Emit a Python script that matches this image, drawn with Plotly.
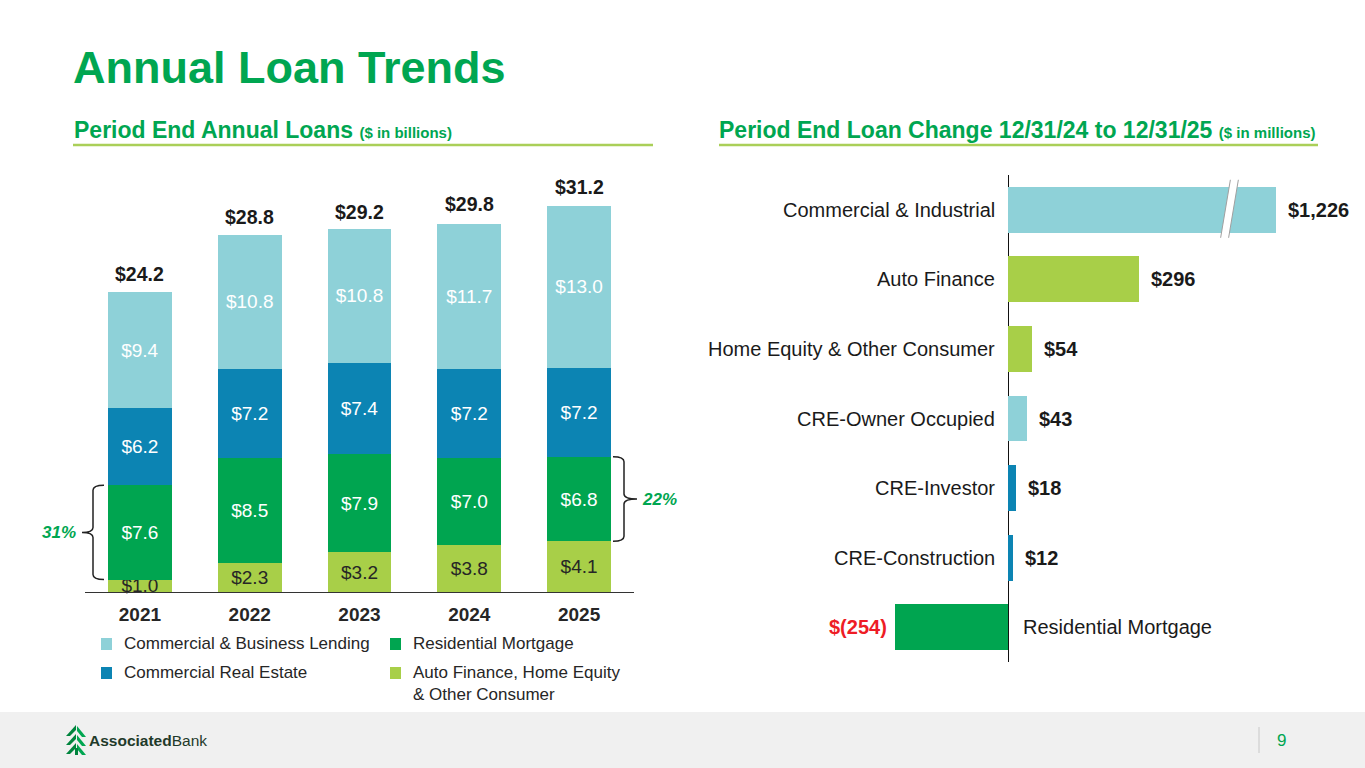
import plotly.graph_objects as go

W, H = 1365, 768

# ---------------- data ----------------
years = ["2021", "2022", "2023", "2024", "2025"]
auto_cons = [1.0, 2.3, 3.2, 3.8, 4.1]      # Auto Finance, Home Equity & Other Consumer
resi_mort = [7.6, 8.5, 7.9, 7.0, 6.8]      # Residential Mortgage
cre_loans = [6.2, 7.2, 7.4, 7.2, 7.2]      # Commercial Real Estate
cbl_loans = [9.4, 10.8, 10.8, 11.7, 13.0]  # Commercial & Business Lending
totals = [24.2, 28.8, 29.2, 29.8, 31.2]
resi_share = {"2021": "31%", "2025": "22%"}

series_names = ["Auto Finance, Home Equity & Other Consumer", "Residential Mortgage",
                "Commercial Real Estate", "Commercial & Business Lending"]
legend_labels = ["Auto Finance, Home Equity<br>& Other Consumer", "Residential Mortgage",
                 "Commercial Real Estate", "Commercial & Business Lending"]

chg_cats = ["Commercial & Industrial", "Auto Finance", "Home Equity & Other Consumer",
            "CRE-Owner Occupied", "CRE-Investor", "CRE-Construction", "Residential Mortgage"]
chg_vals = [1226, 296, 54, 43, 18, 12, -254]
chg_labels = ["$1,226", "$296", "$54", "$43", "$18", "$12", "$(254)"]
break_cap = 605     # broken axis: longer bars are truncated at this length
break_at = 500      # where the break marker sits

# ---------------- style ----------------
FONT = "Liberation Sans, Arial, sans-serif"
GREEN_T = "#00A651"
TEAL = "#8ED1D8"
BLUE = "#0C84B3"
GREEN = "#00A550"
LIME = "#A8CF48"
UNDER = "#AACF58"
DARK = "#1a1a1a"
RED = "#EE1C25"
seg_colors = [LIME, GREEN, BLUE, TEAL]
seg_text_colors = ["#262626", "white", "white", "white"]
chg_colors = [TEAL, LIME, LIME, TEAL, BLUE, BLUE, GREEN]


def px(xp):
    return xp / W


def py(yp):
    return 1 - yp / H


# left plot geometry
L_X0, L_X1 = 85, 634
L_BASE, L_SCALE, L_MAX = 592, 12.4, 33
# right plot geometry
R_ZERO, R_SCALE, R_MIN, R_MAX = 1008, 0.443, -300, 650
R_TOP, R_BOT = 175, 662

fig = go.Figure()

series = [auto_cons, resi_mort, cre_loans, cbl_loans]
for name, vals, col, tcol in zip(series_names, series, seg_colors, seg_text_colors):
    fig.add_trace(go.Bar(
        x=years, y=vals, name=name, marker=dict(color=col, line=dict(width=0)),
        width=0.58, text=[f"${v:.1f}" for v in vals], textposition="inside",
        insidetextanchor="middle", textangle=0, constraintext="none",
        textfont=dict(family=FONT, size=19, color=tcol),
        xaxis="x", yaxis="y", showlegend=False, hoverinfo="skip", cliponaxis=False))

chg_display = [min(v, break_cap) for v in chg_vals]
fig.add_trace(go.Bar(
    y=chg_cats, x=chg_display, orientation="h", marker=dict(color=chg_colors, line=dict(width=0)),
    width=0.66, xaxis="x2", yaxis="y2", showlegend=False, hoverinfo="skip"))

annotations = []
shapes = []

# totals on top of stacks (category index positions)
for i, t in enumerate(totals):
    annotations.append(dict(x=i, y=t, xref="x", yref="y", text=f"<b>${t:.1f}</b>",
                            showarrow=False, yanchor="middle", yshift=18,
                            font=dict(family=FONT, size=19.5, color=DARK)))


# braces showing residential share
def brace(year_idx, side):
    yb = auto_cons[year_idx]
    yt = auto_cons[year_idx] + resi_mort[year_idx]
    ym = (yb + yt) / 2
    r = 5 / L_SCALE
    if side == "left":
        xv, xe, xt = 93, 104, 82
    else:
        xv, xe, xt = 624, 613, 637
    p = (f"M {px(xe)},{yt} Q {px(xv)},{yt} {px(xv)},{yt - r} "
         f"L {px(xv)},{ym + r} Q {px(xv)},{ym} {px(xt)},{ym} "
         f"Q {px(xv)},{ym} {px(xv)},{ym - r} "
         f"L {px(xv)},{yb + r} Q {px(xv)},{yb} {px(xe)},{yb}")
    shapes.append(dict(type="path", xref="paper", yref="y", path=p,
                       line=dict(color="#222222", width=1.5)))
    label = resi_share[years[year_idx]]
    if side == "left":
        annotations.append(dict(x=px(78), y=ym, xref="paper", yref="y", text=f"<b><i>{label}</i></b>",
                                showarrow=False, xanchor="right", yanchor="middle",
                                font=dict(family=FONT, size=17, color=GREEN_T)))
    else:
        annotations.append(dict(x=px(640), y=ym, xref="paper", yref="y", text=f"<b><i>{label}</i></b>",
                                showarrow=False, xanchor="left", yanchor="middle",
                                font=dict(family=FONT, size=17, color=GREEN_T)))


brace(0, "left")
brace(4, "right")

# manual legend (two columns)
legend_pos = {3: (101, 644), 1: (390, 644), 2: (101, 673), 0: (390, 673)}
for i, (xp, yp) in legend_pos.items():
    shapes.append(dict(type="rect", xref="paper", yref="paper",
                       x0=px(xp), x1=px(xp + 11), y0=py(yp - 6), y1=py(yp + 6),
                       fillcolor=seg_colors[i], line=dict(width=0)))
    annotations.append(dict(x=px(xp + 21), y=py(yp - 12), xref="paper", yref="paper",
                            text=legend_labels[i], showarrow=False, xanchor="left", yanchor="top",
                            align="left", font=dict(family=FONT, size=17, color="#262626")))

# right chart labels
for cat, v, d, lab in zip(chg_cats, chg_vals, chg_display, chg_labels):
    pos = v >= 0
    annotations.append(dict(x=0, y=cat, xref="x2", yref="y2", text=cat, showarrow=False,
                            xanchor="right" if pos else "left", xshift=-11 if pos else 13,
                            font=dict(family=FONT, size=20, color=DARK)))
    annotations.append(dict(x=d, y=cat, xref="x2", yref="y2", text=f"<b>{lab}</b>", showarrow=False,
                            xanchor="left" if pos else "right", xshift=10 if pos else -6,
                            font=dict(family=FONT, size=20, color=DARK if pos else RED)))

# axis break marker on the truncated bar
step = (R_BOT - R_TOP) / len(chg_cats)
c0 = R_TOP + step / 2
yt_b, yb_b = py(c0 - 30), py(c0 + 28)
gap, slant = 9, 11
shapes.append(dict(type="path", xref="x2", yref="paper",
                   path=(f"M {break_at - gap + slant},{yt_b} L {break_at + gap + slant},{yt_b} "
                         f"L {break_at + gap - slant},{yb_b} L {break_at - gap - slant},{yb_b} Z"),
                   fillcolor="white", line=dict(width=0)))
for s in (-gap, gap):
    shapes.append(dict(type="line", xref="x2", yref="paper",
                       x0=break_at + s + slant, y0=yt_b, x1=break_at + s - slant, y1=yb_b,
                       line=dict(color="#A0A0A0", width=1)))

# titles
annotations.append(dict(x=px(71), y=py(68), xref="paper", yref="paper", text="<b>Annual Loan Trends</b>",
                        showarrow=False, xanchor="left", yanchor="middle",
                        font=dict(family=FONT, size=45, color=GREEN_T)))
annotations.append(dict(x=px(72), y=py(130), xref="paper", yref="paper",
                        text="<b>Period End Annual Loans <span style='font-size:15px'>($ in billions)</span></b>",
                        showarrow=False, xanchor="left", yanchor="middle",
                        font=dict(family=FONT, size=23, color=GREEN_T)))
annotations.append(dict(x=px(717), y=py(130), xref="paper", yref="paper",
                        text="<b>Period End Loan Change 12/31/24 to 12/31/25 <span style='font-size:15px'>($ in millions)</span></b>",
                        showarrow=False, xanchor="left", yanchor="middle",
                        font=dict(family=FONT, size=23, color=GREEN_T)))
shapes.append(dict(type="line", xref="paper", yref="paper", x0=px(73), x1=px(653), y0=py(145), y1=py(145),
                   line=dict(color=UNDER, width=2.5)))
shapes.append(dict(type="line", xref="paper", yref="paper", x0=px(719), x1=px(1318), y0=py(145), y1=py(145),
                   line=dict(color=UNDER, width=2.5)))

# footer
shapes.append(dict(type="rect", xref="paper", yref="paper", x0=0, x1=1, y0=0, y1=py(712),
                   fillcolor="#F0F0F0", line=dict(width=0), layer="below"))
shapes.append(dict(type="line", xref="paper", yref="paper", x0=px(1259), x1=px(1259), y0=py(727), y1=py(753),
                   line=dict(color="#C8C8C8", width=1)))
annotations.append(dict(x=px(1275), y=py(740), xref="paper", yref="paper", text="9", showarrow=False,
                        xanchor="left", yanchor="middle", font=dict(family=FONT, size=17, color=GREEN_T)))
# logo tree icon
cx = 76
for k, t in enumerate([725, 734, 743]):
    shapes.append(dict(type="path", xref="paper", yref="paper",
                       path=(f"M {px(cx)},{py(t)} L {px(cx - 10)},{py(t + 11)} L {px(cx - 6)},{py(t + 11)} "
                             f"L {px(cx)},{py(t + 5)} Z"),
                       fillcolor="#00843D", line=dict(width=0)))
    shapes.append(dict(type="path", xref="paper", yref="paper",
                       path=(f"M {px(cx + 1)},{py(t + 1)} L {px(cx + 10)},{py(t + 12)} L {px(cx + 6)},{py(t + 12)} "
                             f"L {px(cx + 1)},{py(t + 6)} Z"),
                       fillcolor="#00A651", line=dict(width=0)))
shapes.append(dict(type="path", xref="paper", yref="paper",
                   path=f"M {px(cx - 1)},{py(748)} L {px(cx + 2)},{py(748)} L {px(cx + 2)},{py(755)} L {px(cx - 1)},{py(755)} Z",
                   fillcolor="#00843D", line=dict(width=0)))
annotations.append(dict(x=px(87), y=py(740), xref="paper", yref="paper",
                        text="<b>Associated</b>Bank", showarrow=False, xanchor="left", yanchor="middle",
                        font=dict(family=FONT, size=15.5, color="#1f3a2a")))

fig.update_layout(
    width=W, height=H, margin=dict(l=0, r=0, t=0, b=0),
    paper_bgcolor="white", plot_bgcolor="rgba(0,0,0,0)",
    barmode="stack", showlegend=False,
    font=dict(family=FONT, color=DARK),
    xaxis=dict(domain=[px(L_X0), px(L_X1)], type="category", range=[-0.5, 4.5],
               showline=True, linecolor="#333333", linewidth=1, ticks="", showgrid=False,
               tickfont=dict(family=FONT, size=19, color="#262626", weight="bold"),
               ticklabelstandoff=5, fixedrange=True, anchor="y"),
    yaxis=dict(domain=[py(L_BASE), py(L_BASE - L_MAX * L_SCALE)], range=[0, L_MAX],
               visible=False, fixedrange=True, anchor="x"),
    xaxis2=dict(domain=[px(R_ZERO + R_MIN * R_SCALE), px(R_ZERO + R_MAX * R_SCALE)], range=[R_MIN, R_MAX],
                showgrid=False, showticklabels=False, ticks="", zeroline=True, zerolinecolor="#111111",
                zerolinewidth=1, showline=False, fixedrange=True, anchor="y2"),
    yaxis2=dict(domain=[py(R_BOT), py(R_TOP)], type="category", categoryorder="array",
                categoryarray=chg_cats, range=[len(chg_cats) - 0.5, -0.5], visible=False,
                fixedrange=True, anchor="x2"),
    annotations=annotations, shapes=shapes,
)

fig.write_html("out.html", config={"displayModeBar": False},
               post_script="document.body.style.margin='0';document.body.style.overflow='hidden';")
